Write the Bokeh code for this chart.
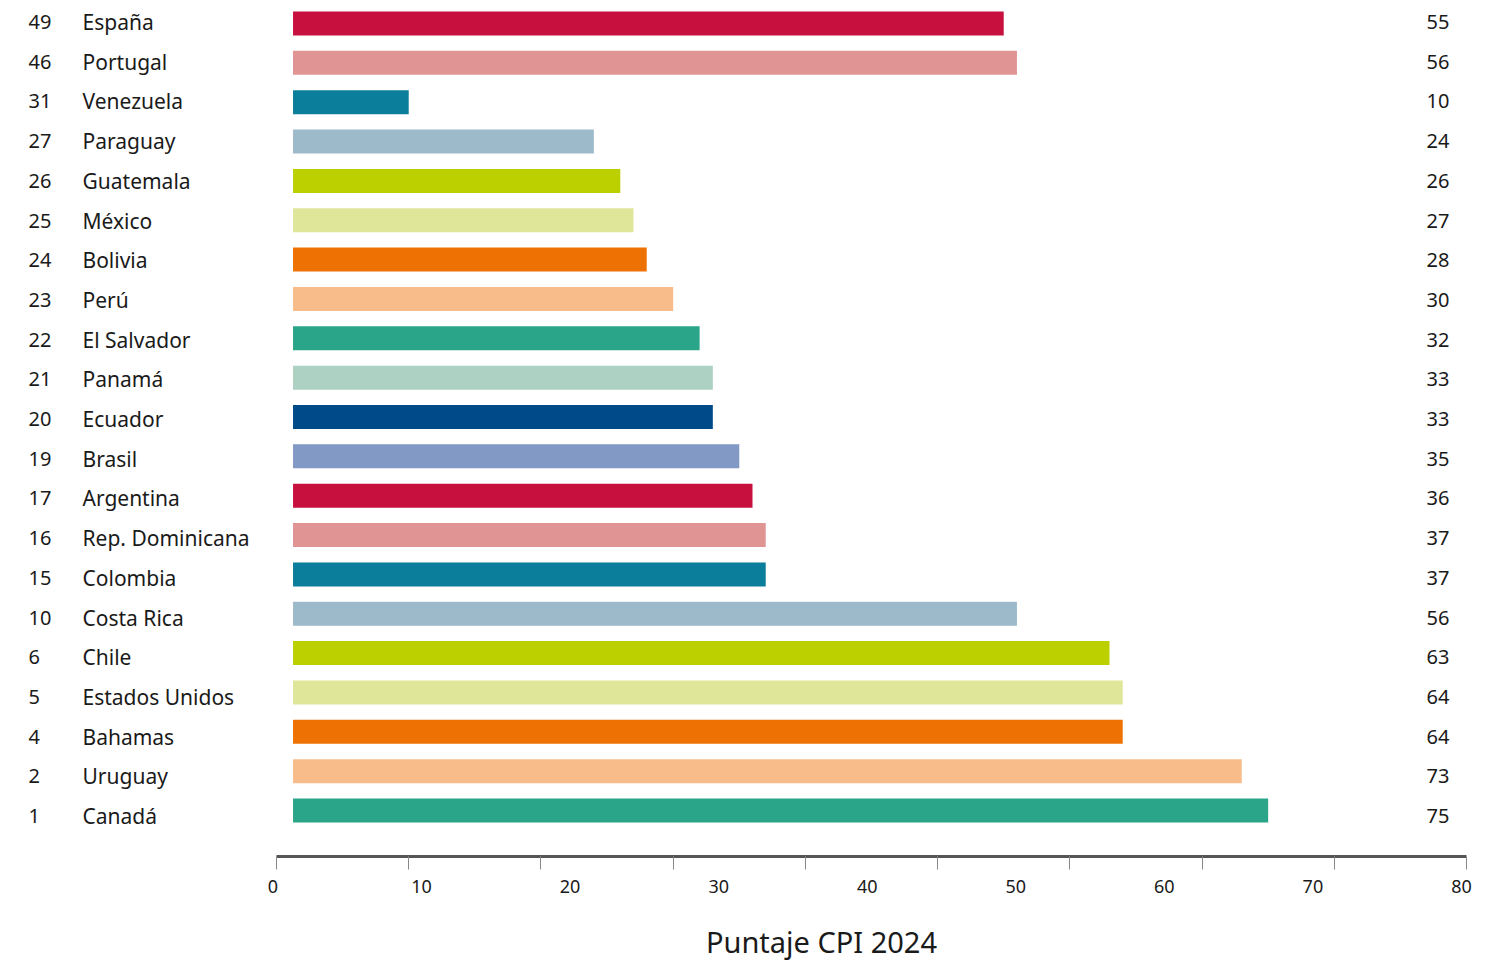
from bokeh.plotting import figure
from bokeh.models import Range1d, FixedTicker, CustomJSTickFormatter, ColumnDataSource
from bokeh.core.properties import value
from bokeh.embed import file_html
from bokeh.resources import INLINE

# CPI 2024 ranking, listed top to bottom
ranks = [49, 46, 31, 27, 26, 25, 24, 23, 22, 21, 20, 19, 17, 16, 15, 10, 6, 5, 4, 2, 1]
countries = ["España", "Portugal", "Venezuela", "Paraguay", "Guatemala", "México",
             "Bolivia", "Perú", "El Salvador", "Panamá", "Ecuador", "Brasil",
             "Argentina", "Rep. Dominicana", "Colombia", "Costa Rica", "Chile",
             "Estados Unidos", "Bahamas", "Uruguay", "Canadá"]
scores = [55, 56, 10, 24, 26, 27, 28, 30, 32, 33, 33, 35, 36, 37, 37, 56, 63, 64, 64, 73, 75]
palette = ["#C8103E", "#E09494", "#0B7E9B", "#9DBACB", "#BCD000", "#DFE699",
           "#EE7203", "#F7BC8A", "#2BA58A", "#ADD1C2", "#004A8A", "#8199C4"]
tick_values = [0, 10, 20, 30, 40, 50, 60, 70, 80, 90]
tick_labels = [0, 10, 20, 30, 40, 50, 60, 70, 80]
x_title = "Puntaje CPI 2024"

W, H = 1494, 962
ZERO_PX = 276
SCALE = 1190 / 90          # pixels per score unit
ROW_PX = 39.35             # vertical spacing of the bars
TOP_PX = 23                # centre of the first bar
TEXT_ROW_PX = 39.7
TEXT_TOP_PX = 21.5
AXIS_PX = 856
TITLE_PX = 941
BAR_LEFT = 1.25
BAR_H = 24 / ROW_PX
FONT = "Noto Sans"
FONT_MED = "Noto Sans Medium, Noto Sans"
INK = "#1a1a1a"


def px_to_x(px):
    return (px - ZERO_PX) / SCALE


def px_to_y(px):
    return (px - TOP_PX) / ROW_PX


n = len(countries)
rows = list(range(n))
colors = [palette[i % len(palette)] for i in range(n)]
text_rows = [px_to_y(TEXT_TOP_PX + TEXT_ROW_PX * i) for i in rows]

src = ColumnDataSource(dict(
    row=rows, trow=text_rows, score=scores, color=colors,
    rank=[str(r) for r in ranks], country=countries,
    score_txt=[str(v) for v in scores],
))

p = figure(width=W, height=H,
           x_range=Range1d(px_to_x(0), px_to_x(W)),
           y_range=Range1d(px_to_y(H), px_to_y(0)),
           output_backend="svg", toolbar_location=None,
           y_axis_location=None, x_axis_location="below",
           min_border=0, outline_line_color=None)
p.xgrid.visible = False
p.ygrid.visible = False

p.hbar(y="row", left=BAR_LEFT, right="score", height=BAR_H,
       fill_color="color", line_color=None, source=src)

for col, x, font, size in (("rank", px_to_x(28), FONT_MED, "20px"),
                           ("country", px_to_x(82), FONT_MED, "21px"),
                           ("score_txt", px_to_x(1426), FONT, "20px")):
    p.text(x=x, y="trow", text=col, source=src, text_font=value(font),
           text_font_size=size, text_color=INK, text_align="left",
           text_baseline="middle")

# Axis: tick marks every 10 units, labels spread evenly across the axis
label_step = 148.56 / SCALE
label_shift = px_to_x(272.5)
label_pos = [label_shift + i * label_step for i in range(len(tick_labels))]
ax = p.xaxis[0]
ax.fixed_location = px_to_y(AXIS_PX)
ax.ticker = FixedTicker(ticks=label_pos, minor_ticks=tick_values)
ax.formatter = CustomJSTickFormatter(
    args=dict(step=label_step, shift=label_shift, labels=tick_labels),
    code="return String(labels[Math.round((tick - shift) / step)]);")
ax.bounds = (0, 90)
ax.axis_line_width = 3
ax.axis_line_color = "#555555"
ax.major_tick_out = 0
ax.major_tick_in = 0
ax.minor_tick_out = 13
ax.minor_tick_in = 0
ax.minor_tick_line_color = "#888888"
ax.minor_tick_line_width = 1
ax.major_label_text_font = FONT
ax.major_label_text_font_size = "18px"
ax.major_label_text_color = INK
ax.major_label_standoff = 10

# Axis title, centred under the bars
p.text(x=[px_to_x(821)], y=[px_to_y(TITLE_PX)], text=[x_title],
       text_font=value(FONT), text_font_size="29px", text_color=INK,
       text_align="center", text_baseline="middle")

open("out.html", "w").write(file_html(p, INLINE))
